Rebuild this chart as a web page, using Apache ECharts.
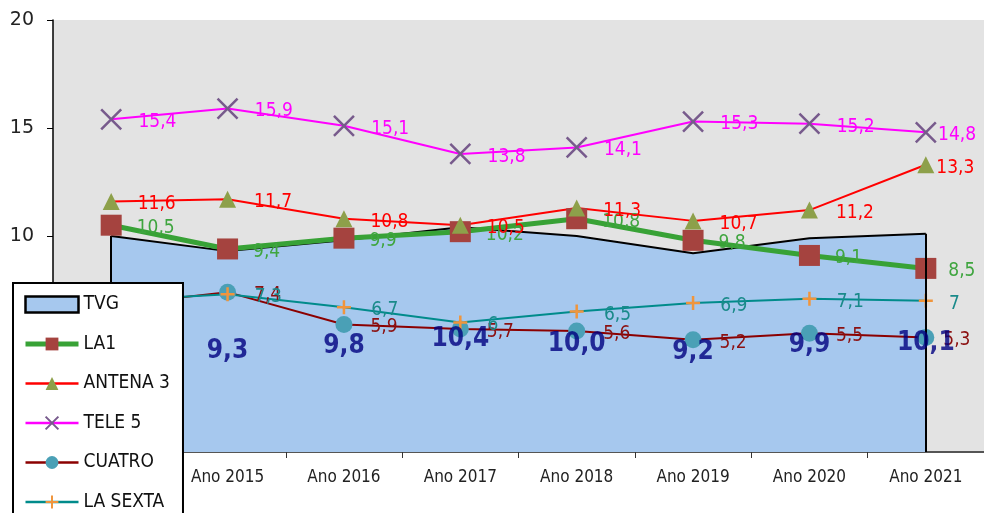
<!DOCTYPE html>
<html>
<head>
<meta charset="utf-8">
<script src="https://cdn.jsdelivr.net/npm/echarts@6/dist/echarts.min.js"></script>
<style>
html,body{margin:0;padding:0;background:#fff;}
#chart{width:984px;height:513px;}
</style>
</head>
<body>
<div id="chart"></div>
<script>
const categories = ['Ano 2014','Ano 2015','Ano 2016','Ano 2017','Ano 2018','Ano 2019','Ano 2020','Ano 2021'];
const tvg     = [10.0, 9.3, 9.8, 10.4, 10.0, 9.2, 9.9, 10.1];
const la1     = [10.5, 9.4, 9.9, 10.2, 10.8, 9.8, 9.1, 8.5];
const antena3 = [11.6, 11.7, 10.8, 10.5, 11.3, 10.7, 11.2, 13.3];
const tele5   = [15.4, 15.9, 15.1, 13.8, 14.1, 15.3, 15.2, 14.8];
const cuatro  = [6.8, 7.4, 5.9, 5.7, 5.6, 5.2, 5.5, 5.3];
const laSexta = [7.0, 7.3, 6.7, 6.0, 6.5, 6.9, 7.1, 7.0];
const yTicks  = {min: 0, max: 20, interval: 5};

const FONT = '"DejaVu Sans Condensed", "DejaVu Sans", sans-serif';
const fmtG = v => String(v).replace('.', ',');
const fmt1 = v => v.toFixed(1).replace('.', ',');

function mkData(values, lastDist) {
  return values.map((v, i) => {
    if (i === values.length - 1) return {value: v, label: {distance: lastDist}};
    return v;
  });
}

function lineSeries(name, values, cfg) {
  return {
    name: name,
    type: 'line',
    data: mkData(values, cfg.lastDist),
    symbol: cfg.symbol,
    symbolSize: cfg.size,
    lineStyle: {color: cfg.line, width: cfg.width || 2},
    itemStyle: Object.assign({color: cfg.marker}, cfg.itemStyle || {}),
    color: cfg.marker,
    label: {
      show: true,
      position: 'right',
      distance: cfg.dist,
      offset: [0, 3],
      color: cfg.labelColor,
      fontFamily: FONT,
      fontSize: 19,
      formatter: p => fmtG(p.value)
    },
    emphasis: {disabled: true},
    animation: false,
    z: 3
  };
}

const last = categories.length - 1;

const option = {
  animation: false,
  grid: {left: 53, top: 20, right: -5, bottom: 61, show: true, backgroundColor: '#E3E3E3', borderWidth: 0},
  xAxis: {
    type: 'category',
    data: categories,
    boundaryGap: true,
    axisLine: {lineStyle: {color: '#555', width: 2}},
    axisTick: {show: true, length: 6, lineStyle: {color: '#333', width: 1}},
    axisLabel: {color: '#222', fontFamily: FONT, fontSize: 17, margin: 17},
    splitLine: {show: false}
  },
  yAxis: {
    type: 'value',
    min: yTicks.min, max: yTicks.max, interval: yTicks.interval,
    axisLine: {show: true, lineStyle: {color: '#000', width: 1.5}},
    axisTick: {show: true, length: 6, lineStyle: {color: '#000'}},
    axisLabel: {color: '#222', fontFamily: '"DejaVu Sans", sans-serif', fontSize: 19, margin: 19},
    splitLine: {show: false}
  },
  legend: {
    orient: 'vertical',
    left: 13, top: 283,
    height: 260,
    backgroundColor: '#fff',
    borderColor: '#000', borderWidth: 2,
    padding: [12, 13, 12, 10],
    itemWidth: 53, itemHeight: 16, itemGap: 20.5,
    textStyle: {color: '#111', fontFamily: FONT, fontSize: 19},
    data: [
      {name: 'TVG', icon: 'rect', itemStyle: {color: '#A6C8EE', borderColor: '#000', borderWidth: 2.5}},
      {name: 'LA1', lineStyle: {width: 5}},
      {name: 'ANTENA 3', lineStyle: {width: 2.5}},
      {name: 'TELE 5', lineStyle: {width: 2.5}},
      {name: 'CUATRO', lineStyle: {width: 2.5}},
      {name: 'LA SEXTA', lineStyle: {width: 2.5}}
    ],
    z: 10
  },
  series: [
    {
      name: 'TVG',
      type: 'line',
      data: tvg,
      symbol: 'none',
      color: '#A6C8EE',
      lineStyle: {color: '#000', width: 2},
      areaStyle: {color: '#A6C8EE', opacity: 1},
      emphasis: {disabled: true},
      z: 1,
      markLine: {
        silent: true,
        symbol: 'none',
        label: {show: false},
        lineStyle: {color: '#000', width: 2, type: 'solid'},
        data: [
          [{coord: [categories[0], 0]}, {coord: [categories[0], tvg[0]]}],
          [{coord: [categories[last], 0]}, {coord: [categories[last], tvg[last]]}]
        ]
      }
    },
    {
      name: 'TVG_labels',
      type: 'scatter',
      data: tvg.map(v => ({value: v / 2, tvgValue: v})),
      symbolSize: 0,
      label: {
        show: true,
        position: 'inside',
        color: '#000080',
        fontFamily: FONT,
        fontWeight: 'bold',
        fontSize: 26,
        formatter: p => fmt1(p.data.tvgValue)
      },
      emphasis: {disabled: true},
      z: 5
    },
    lineSeries('LA1', la1, {symbol: 'rect', size: 21, line: '#38A236', width: 5, marker: '#A5433F',
      labelColor: '#3FA53F', dist: 15, lastDist: 12}),
    lineSeries('ANTENA 3', antena3, {symbol: 'triangle', size: 17, line: '#FF0000', marker: '#8DA04A',
      labelColor: '#FF0000', dist: 18, lastDist: 2}),
    lineSeries('TELE 5', tele5, {symbol: 'path://M0,0L10,10M10,0L0,10', size: 20, line: '#FF00FF', marker: '#775A8C',
      itemStyle: {borderColor: '#775A8C', borderWidth: 2.5}, labelColor: '#FF00FF', dist: 16, lastDist: 1}),
    lineSeries('CUATRO', cuatro, {symbol: 'circle', size: 17, line: '#8B0000', marker: '#4AA0B6',
      labelColor: '#8B1010', dist: 18, lastDist: 9}),
    lineSeries('LA SEXTA', laSexta, {symbol: 'path://M5,0L5,10M0,5L10,5', size: 14, line: '#008B8B', marker: '#F0953C',
      itemStyle: {borderColor: '#F0953C', borderWidth: 2.5}, labelColor: '#1A8A8A', dist: 19, lastDist: 15})
  ]
};

const chart = echarts.init(document.getElementById('chart'), null, {renderer: 'canvas'});
chart.setOption(option);
</script>
</body>
</html>
